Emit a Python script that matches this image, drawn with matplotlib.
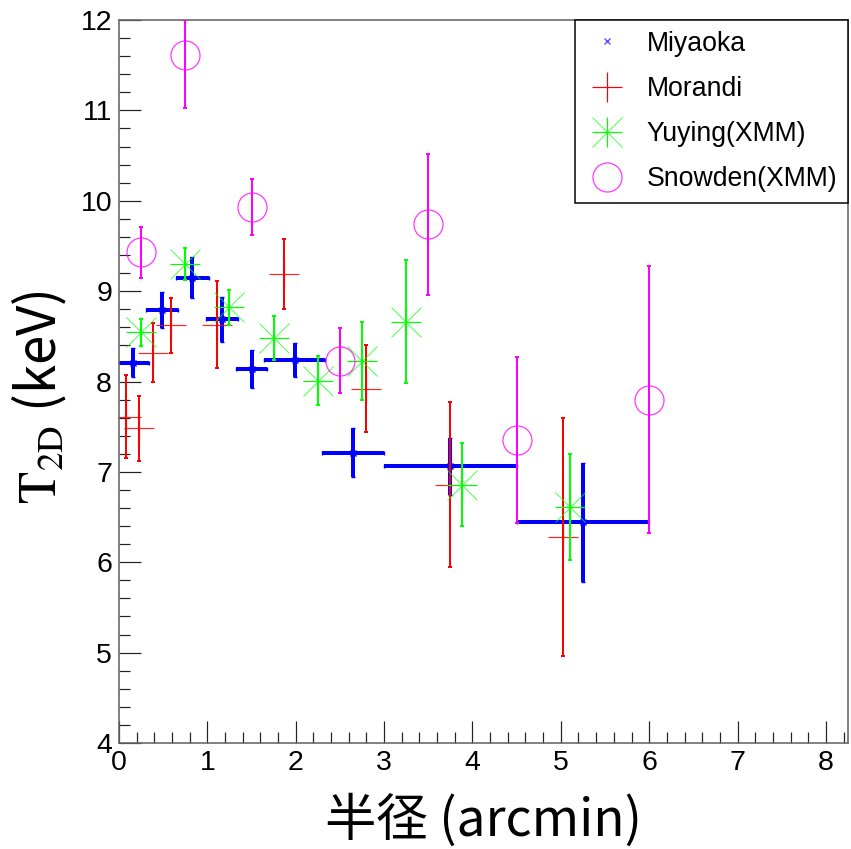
import matplotlib
matplotlib.use('Agg')
import matplotlib.pyplot as plt
from matplotlib.lines import Line2D
from matplotlib.ticker import MultipleLocator

# Miyaoka (blue, binned in radius)
miy_r = [0.16, 0.49, 0.83, 1.17, 1.50, 1.99, 2.65, 3.75, 5.25]
miy_rerr = [0.18, 0.18, 0.19, 0.18, 0.18, 0.345, 0.35, 0.75, 0.75]
miy_t = [8.21, 8.79, 9.15, 8.69, 8.14, 8.24, 7.21, 7.06, 6.44]
miy_terr = [0.16, 0.20, 0.23, 0.25, 0.21, 0.185, 0.27, 0.32, 0.66]

# Morandi (red)
mor_r = [0.08, 0.23, 0.38, 0.59, 1.11, 1.87, 2.79, 3.75, 5.03]
mor_t = [7.61, 7.48, 8.32, 8.62, 8.63, 9.19, 7.92, 6.86, 6.28]
mor_terr = [0.46, 0.36, 0.33, 0.30, 0.485, 0.385, 0.48, 0.91, 1.32]

# Yuying (XMM, green)
yuy_r = [0.25, 0.75, 1.25, 1.75, 2.25, 2.75, 3.25, 3.88, 5.10]
yuy_t = [8.545, 9.30, 8.82, 8.48, 8.01, 8.23, 8.66, 6.86, 6.61]
yuy_terr = [0.15, 0.175, 0.19, 0.24, 0.275, 0.43, 0.68, 0.46, 0.59]

# Snowden (XMM, magenta)
sno_r = [0.25, 0.75, 1.5, 2.5, 3.5, 4.5, 6.0]
sno_t = [9.43, 11.61, 9.93, 8.23, 9.74, 7.35, 7.80]
sno_lo = [0.28, 0.58, 0.31, 0.36, 0.78, 0.92, 1.48]
sno_hi = [0.28, 0.39, 0.31, 0.36, 0.78, 0.92, 1.48]

labels = ['Miyaoka', 'Morandi', 'Yuying(XMM)', 'Snowden(XMM)']

px = 72 / 100.0  # one pixel in points at dpi 100

plt.rcParams['font.family'] = ['Liberation Sans', 'DejaVu Sans']
plt.rcParams['mathtext.fontset'] = 'stix'

fig = plt.figure(figsize=(8.51, 8.49), dpi=100)
ax = fig.add_axes([119 / 851, 1 - 743 / 849, 729 / 851, 723 / 849])

blue, red, green, mag = '#0000ff', '#ff0000', '#00ff00', '#ff00ff'

ax.errorbar(miy_r, miy_t, xerr=miy_rerr, yerr=miy_terr, fmt='x', color=blue,
            ms=6 * px, mew=1, elinewidth=4 * px, capsize=2 * px, capthick=4 * px, zorder=2)
ax.errorbar(mor_r, mor_t, yerr=mor_terr, fmt='none', ecolor=red,
            elinewidth=2 * px, capsize=2 * px, capthick=2 * px, zorder=3)
ax.plot(mor_r, mor_t, '+', color=red, ms=30 * px, mew=1.2 * px, alpha=0.85, zorder=3)
ax.errorbar(yuy_r, yuy_t, yerr=yuy_terr, fmt='none', ecolor=green,
            elinewidth=2 * px, capsize=2 * px, capthick=2 * px, zorder=4)
ax.plot(yuy_r, yuy_t, '+', color=green, ms=30 * px, mew=1.2 * px, zorder=4)
ax.plot(yuy_r, yuy_t, 'x', color=green, ms=30 * px, mew=1 * px, alpha=0.7, zorder=4)
ax.errorbar(sno_r, sno_t, yerr=[sno_lo, sno_hi], fmt='none', ecolor=mag,
            elinewidth=2 * px, capsize=2 * px, capthick=2 * px, zorder=5)
ax.plot(sno_r, sno_t, 'o', mfc='none', mec=mag, ms=29 * px, mew=1.3 * px, alpha=0.75, zorder=5)

ax.set_xlim(0, 8.25)
ax.set_ylim(4, 12)
ax.xaxis.set_major_locator(MultipleLocator(1))
ax.xaxis.set_minor_locator(MultipleLocator(0.2))
ax.yaxis.set_major_locator(MultipleLocator(1))
ax.yaxis.set_minor_locator(MultipleLocator(0.2))
ax.tick_params(which='both', direction='in', top=False, right=False,
               color='#222222', width=1.2 * px, labelsize=20.5)
ax.tick_params(which='major', length=22 * px, pad=5)
ax.tick_params(which='minor', length=11 * px)
for s in ax.spines.values():
    s.set_color('#666666')
    s.set_linewidth(1.6 * px)

ax.set_xlabel('半径 (arcmin)', fontsize=37, family=['Noto Sans CJK JP', 'DejaVu Sans'], labelpad=13)
ax.set_ylabel(r'$\mathrm{T}_{\mathrm{2D}}$ (keV)', fontsize=38,
              family=['Noto Sans CJK JP', 'DejaVu Sans'])
ax.yaxis.set_label_coords(-0.068, 0.478)

handles = [
    Line2D([], [], ls='none', marker='x', color='#5555ff', ms=6 * px, mew=1),
    Line2D([], [], ls='none', marker='+', color=red, ms=30 * px, mew=1.2 * px),
    (Line2D([], [], ls='none', marker='+', color=green, ms=30 * px, mew=1.2 * px),
     Line2D([], [], ls='none', marker='x', color=green, ms=30 * px, mew=1 * px, alpha=0.7)),
    Line2D([], [], ls='none', marker='o', mfc='none', mec=mag, ms=29 * px, mew=1.3 * px, alpha=0.75),
]
leg = ax.legend(handles, labels, loc='upper right', bbox_to_anchor=(1, 1), borderaxespad=0,
                fontsize=19.2, frameon=True, fancybox=False, edgecolor='black',
                handlelength=1.6, handletextpad=0.7, labelspacing=0.72, borderpad=0.4)
leg.get_frame().set_linewidth(1.5 * px)
leg.get_frame().set_alpha(1)

fig.savefig('out.png', dpi=100)
